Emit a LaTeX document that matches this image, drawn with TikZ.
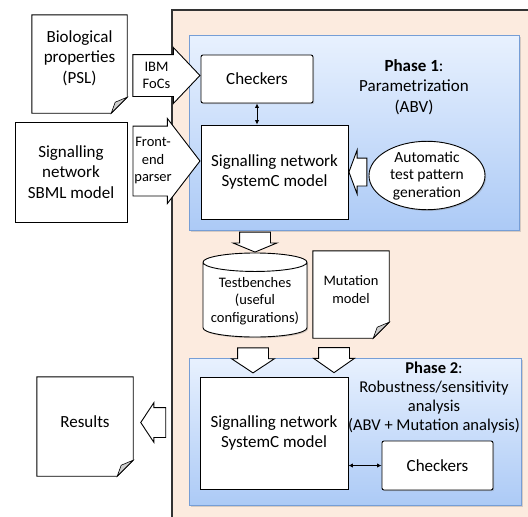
\documentclass[tikz,border=0pt]{standalone}
\usepackage{fontspec}
\setmainfont{Carlito}
\usepackage{tikz}
\usetikzlibrary{shapes,shapes.arrows,shapes.geometric,positioning,calc,shadows,arrows.meta}
\definecolor{frameBg}{RGB}{252,235,223}
\definecolor{phaseTop}{RGB}{232,241,254}
\definecolor{phaseBot}{RGB}{172,202,246}
\definecolor{phaseLine}{RGB}{118,158,214}
\definecolor{foldGray}{RGB}{205,205,205}

% page outline with a folded corner, drawn over a node
\newcommand{\pagefold}[2]{%
  \fill[#2] ([yshift=16pt]#1.south east) -- (#1.south east) -- ([xshift=-16pt]#1.south east) -- cycle;
  \draw[line width=0.9pt] (#1.north west) -- (#1.north east) -- ([yshift=16pt]#1.south east)
    -- ([xshift=-16pt]#1.south east) -- (#1.south west) -- cycle;
  \draw[fill=foldGray,line width=0.6pt] ([yshift=16pt]#1.south east) -- ([xshift=-12pt,yshift=11pt]#1.south east)
    -- ([xshift=-16pt]#1.south east) -- cycle;
}

\begin{document}
\begin{tikzpicture}[x=1pt,y=-1pt,
    box/.style={draw,fill=white,line width=0.9pt,align=center,inner sep=2pt,
      font=\fontsize{17}{20.5}\selectfont,
      drop shadow={shadow xshift=1.2pt,shadow yshift=-1.2pt,opacity=0.35}},
    chkbox/.style={box,rounded corners=2pt},
    pagebox/.style={fill=white,align=center,inner sep=0pt,font=\fontsize{17}{20.5}\selectfont},
    smalltxt/.style={align=center,font=\fontsize{14.5}{17.5}\selectfont},
    phasebox/.style={draw=phaseLine,line width=1pt,top color=phaseTop,bottom color=phaseBot,
      drop shadow={shadow xshift=1.5pt,shadow yshift=-1.5pt,opacity=0.3}},
    phasetxt/.style={align=center,font=\fontsize{17}{20.5}\selectfont},
    blockarr/.style={single arrow,draw,fill=white,line width=0.9pt,inner sep=0pt,
      text height=0pt,text depth=0pt,text width=0pt},
    dblarr/.style={{Latex[length=4.5pt,width=4.5pt]}-{Latex[length=4.5pt,width=4.5pt]},line width=0.9pt}]

  \useasboundingbox (0,0) rectangle (528,517);
  \clip (0,0) rectangle (528,517);

  \draw[fill=frameBg,draw=black!80,line width=1.2pt] (172,10) rectangle (560,560);
  \draw[phasebox] (189,35) rectangle (519,230);
  \draw[phasebox] (189,358) rectangle (521,505);

  % phase 1
  \node[chkbox,minimum width=112pt,minimum height=48pt] (chk1) at (257,79) {Checkers};
  \node[box,minimum width=147pt,minimum height=94pt] (sn1) at (274.5,172) {Signalling network\\SystemC model};
  \node[phasetxt] (ph1) at (414,87) {\textbf{Phase 1}:\\Parametrization\\(ABV)};
  \node[ellipse,draw,fill=white,line width=0.9pt,inner sep=0pt,minimum width=116pt,minimum height=57pt,
    smalltxt,font=\fontsize{15.5}{17.5}\selectfont,
    drop shadow={shadow xshift=1.2pt,shadow yshift=-1.2pt,opacity=0.35}] (atpg) at (427,175.5)
    {Automatic\\test pattern\\generation};
  \draw[dblarr] (chk1.south) -- (chk1.south |- sn1.north);

  % inputs
  \node[pagebox,minimum width=95pt,minimum height=98pt,text depth=14pt] (bio) at (79.5,64) {Biological\\properties\\(PSL)};
  \pagefold{bio}{white}
  \node[box,minimum width=112pt,minimum height=100pt] (sbml) at (71,172) {Signalling\\network\\SBML model};

  \node[blockarr,anchor=tip,minimum height=67pt,inner ysep=20.5pt,single arrow head extend=7pt,
    single arrow tip angle=93,label={[smalltxt]center:IBM\\FoCs}] (ibm) at ([yshift=3.5pt]chk1.west) {};
  \node[blockarr,anchor=tip,minimum height=67pt,inner ysep=34.5pt,single arrow head extend=7.5pt,
    single arrow tip angle=105,label={[smalltxt]center:Front-\\end\\parser}] (fep) at ([yshift=11pt]sn1.west) {};
  \node[blockarr,anchor=tip,shape border rotate=180,minimum height=18pt,inner ysep=13.5pt,
    single arrow head extend=8pt,single arrow tip angle=139] (atpgarr) at (sn1.east) {};

  % between the phases
  \node[box,cylinder,shape border rotate=90,aspect=0.2,minimum width=104pt,minimum height=84pt,anchor=shape center,
    font=\fontsize{14.5}{17.5}\selectfont] (tb) at (255,295) {Testbenches\\(useful\\configurations)};
  \node[pagebox,minimum width=76pt,minimum height=87pt,text depth=10pt,font=\fontsize{14.5}{17.5}\selectfont]
    (mut) at (351,294.5) {Mutation\\model};
  \pagefold{mut}{frameBg}

  \node[blockarr,anchor=tip,shape border rotate=270,minimum height=20pt,inner xsep=15pt,
    single arrow head extend=6.5pt,single arrow tip angle=135] (down1) at (tb.north) {};
  \node[blockarr,anchor=tail,shape border rotate=270,minimum height=25pt,inner xsep=15pt,
    single arrow head extend=6pt,single arrow tip angle=113] (down2) at ([xshift=-2pt,yshift=-10pt]tb.south) {};
  \node[blockarr,anchor=tail,shape border rotate=270,minimum height=25pt,inner xsep=15pt,
    single arrow head extend=5pt,single arrow tip angle=110] (down3) at ([xshift=-17pt,yshift=-9pt]mut.south) {};

  % phase 2
  \node[box,minimum width=148pt,minimum height=112pt] (sn2) at (274,433) {Signalling network\\SystemC model};
  \node[chkbox,minimum width=111pt,minimum height=49pt] (chk2) at (437.5,465.5) {Checkers};
  \node[phasetxt,font=\fontsize{16.5}{19}\selectfont] (ph2) at (434,398)
    {\textbf{Phase 2}:\\Robustness/sensitivity\\analysis\\(ABV + Mutation analysis)};
  \draw[dblarr] (sn2.east |- chk2.west) -- (chk2.west);

  % output
  \node[pagebox,minimum width=96pt,minimum height=99pt,text depth=10pt] (res) at (85,426.5) {Results};
  \pagefold{res}{white}
  \node[blockarr,anchor=tip,shape border rotate=180,minimum height=25pt,inner ysep=14.5pt,
    single arrow head extend=5pt,single arrow tip angle=113] (resarr) at ([xshift=7pt,yshift=4pt]res.east) {};
\end{tikzpicture}
\end{document}
